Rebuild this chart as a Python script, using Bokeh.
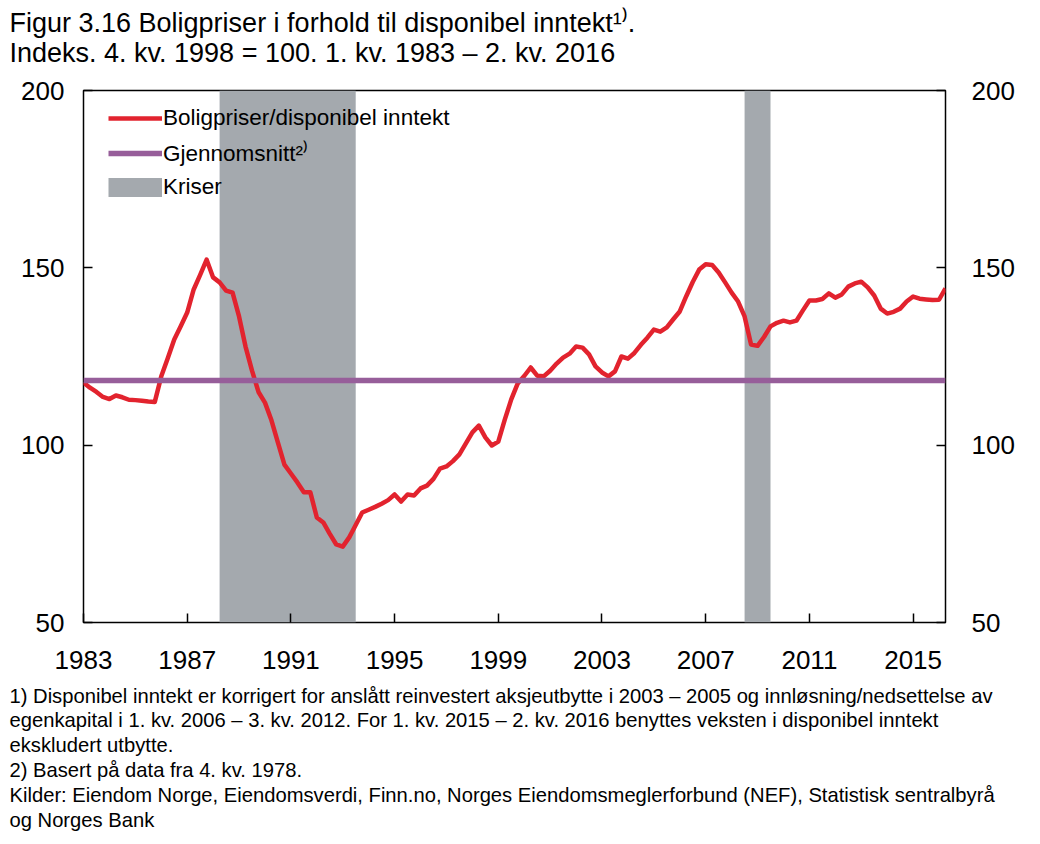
from bokeh.plotting import figure
from bokeh.layouts import column
from bokeh.models import Label, Legend, LegendItem, FixedTicker, Range1d, ColumnDataSource, LinearAxis
from bokeh.embed import file_html
from bokeh.resources import INLINE

# ---- data -----------------------------------------------------------------
start_year = 1983
# quarterly index, 1. kv. 1983 - 2. kv. 2016
ratio = [
    117.7, 116.2, 115.0, 113.6,   # 1983
    113.0, 114.0, 113.5, 112.8,   # 1984
    112.7, 112.5, 112.3, 112.2,   # 1985
    119.4, 124.5, 129.8, 133.5,   # 1986
    137.4, 143.9, 148.0, 152.3,   # 1987
    147.3, 145.9, 143.6, 143.0,   # 1988
    136.3, 127.8, 121.0, 115.0,   # 1989
    112.0, 107.0, 100.7, 94.5,    # 1990
    92.0, 89.5, 86.7, 86.7,       # 1991
    79.6, 78.2, 75.0, 72.0,       # 1992
    71.4, 74.0, 77.5, 81.0,       # 1993
    81.8, 82.6, 83.5, 84.5,       # 1994
    86.1, 84.1, 86.1, 85.8,       # 1995
    87.8, 88.6, 90.5, 93.4,       # 1996
    94.0, 95.5, 97.4, 100.5,      # 1997
    103.6, 105.5, 102.2, 99.9,    # 1998
    101.0, 107.2, 112.9, 117.4,   # 1999
    119.5, 121.9, 119.6, 119.4,   # 2000
    121.0, 123.0, 124.7, 125.8,   # 2001
    127.8, 127.5, 125.6, 122.2,   # 2002
    120.5, 119.4, 120.8, 125.0,   # 2003
    124.4, 126.0, 128.3, 130.3,   # 2004
    132.6, 132.0, 133.2, 135.5,   # 2005
    137.7, 142.0, 146.0, 149.5,   # 2006
    151.0, 150.8, 148.7, 145.9,   # 2007
    143.0, 140.5, 136.3, 128.4,   # 2008
    128.0, 130.5, 133.5, 134.5,   # 2009
    135.1, 134.6, 135.1, 138.0,   # 2010
    140.8, 140.8, 141.2, 142.8,   # 2011
    141.6, 142.5, 144.7, 145.6,   # 2012
    146.1, 144.5, 142.2, 138.5,   # 2013
    137.1, 137.6, 138.5, 140.5,   # 2014
    141.9, 141.3, 141.1, 140.9,   # 2015
    141.0, 144.2,                 # 2016
]
average = 118.2
crisis_start = [1988.25, 2008.5]
crisis_end = [1993.5, 2009.5]
x_ticks = [1983, 1987, 1991, 1995, 1999, 2003, 2007, 2011, 2015]
y_ticks = [50, 100, 150, 200]

title_lines = [
    "Figur 3.16 Boligpriser i forhold til disponibel inntekt\u00b9\u207e.",
    "Indeks. 4. kv. 1998 = 100. 1. kv. 1983 \u2013 2. kv. 2016",
]
foot_lines = [
    "1) Disponibel inntekt er korrigert for anslått reinvestert aksjeutbytte i 2003 \u2013 2005 og innløsning/nedsettelse av",
    "egenkapital i 1. kv. 2006 \u2013 3. kv. 2012. For 1. kv. 2015 \u2013 2. kv. 2016 benyttes veksten i disponibel inntekt",
    "ekskludert utbytte.",
    "2) Basert på data fra 4. kv. 1978.",
    "Kilder: Eiendom Norge, Eiendomsverdi, Finn.no, Norges Eiendomsmeglerforbund (NEF), Statistisk sentralbyrå",
    "og Norges Bank",
]
legend_labels = ["Boligpriser/disponibel inntekt", "Gjennomsnitt\u00b2\u207e", "Kriser"]

# ---- derived --------------------------------------------------------------
t = [start_year + i / 4 for i in range(len(ratio))]
x0, x1 = t[0], t[-1]
y0, y1 = 50, 200

FONT = "Liberation Sans"
RED = "#E2232E"
PURPLE = "#975E9A"
GREY = "#A4A9AE"

# page geometry (screenshot pixels)
OFF = 1
W = 1024
FL, FR, FT, FB = 84, 946, 91, 623
TOP_H = 72                 # title strip
MAIN_TOP = OFF + TOP_H     # page y where main figure starts
MAIN_BOT = 680             # page y where main figure ends
FOOT_H = 836 - MAIN_BOT
MAIN_H = MAIN_BOT - MAIN_TOP


def text_strip(height):
    f = figure(width=W, height=height, output_backend="svg", toolbar_location=None,
               x_range=Range1d(0, W), y_range=Range1d(height, 0),
               min_border=0, x_axis_location=None, y_axis_location=None,
               frame_align=False)
    f.grid.visible = False
    f.outline_line_color = None
    f.background_fill_color = "white"
    f.border_fill_color = "white"
    return f


def add_text(f, txt, x, y, size):
    f.add_layout(Label(x=x, y=y, text=txt, text_font=FONT, text_font_size=size,
                       text_color="black", text_baseline="alphabetic", text_align="left"))


# title strip
top = text_strip(TOP_H)
add_text(top, title_lines[0], 10 - OFF, 22, "27px")
add_text(top, title_lines[1], 10 - OFF, 52, "27px")

# main chart
p = figure(width=W, height=MAIN_H, output_backend="svg", toolbar_location=None,
           x_range=Range1d(x0, x1), y_range=Range1d(y0, y1),
           min_border_left=FL - OFF, min_border_right=W - (FR - OFF),
           min_border_top=FT - MAIN_TOP, min_border_bottom=MAIN_BOT - FB,
           y_axis_location=None, x_axis_location=None, frame_align=False)
p.grid.visible = False
p.outline_line_color = "black"
p.outline_line_width = 1.5
p.background_fill_color = "white"
p.border_fill_color = "white"


def style_axis(ax, ticks, standoff):
    ax.ticker = FixedTicker(ticks=ticks)
    ax.major_tick_in = 9
    ax.major_tick_out = 0
    ax.minor_tick_line_color = None
    ax.major_tick_line_width = 1.5
    ax.major_tick_line_color = "black"
    ax.axis_line_color = None
    ax.major_label_text_font = FONT
    ax.major_label_text_font_size = "26px"
    ax.major_label_text_color = "black"
    ax.major_label_standoff = standoff


bx = LinearAxis()
ly = LinearAxis()
ry = LinearAxis()
style_axis(bx, x_ticks, 28)
style_axis(ly, y_ticks, 19)
style_axis(ry, y_ticks, 26)
p.add_layout(bx, "below")
p.add_layout(ly, "left")
p.add_layout(ry, "right")

# crisis bands
src_c = ColumnDataSource(dict(left=crisis_start, right=crisis_end))
p.quad(left="left", right="right", bottom=y0, top=y1, source=src_c,
       fill_color=GREY, line_color=None)

src = ColumnDataSource(dict(t=t, v=ratio))
r_red = p.line("t", "v", source=src, line_color=RED, line_width=4.5, line_join="round")
r_avg = p.line([x0, x1], [average, average], line_color=PURPLE, line_width=5.5)
r_kr = p.line([x0, x0], [float("nan"), float("nan")], line_color=GREY, line_width=19)

legend = Legend(items=[LegendItem(label=legend_labels[0], renderers=[r_red]),
                       LegendItem(label=legend_labels[1], renderers=[r_avg]),
                       LegendItem(label=legend_labels[2], renderers=[r_kr])],
                location=(25, 422), orientation="vertical",
                background_fill_alpha=0, border_line_color=None,
                padding=0, margin=0, spacing=6,
                glyph_width=54, glyph_height=20, label_height=20,
                label_standoff=1, label_text_font=FONT,
                label_text_font_size="22.5px", label_text_color="black")
p.add_layout(legend, "center")

# footnote strip
foot = text_strip(FOOT_H)
for i, line in enumerate(foot_lines):
    add_text(foot, line, 10 - OFF, 696 + i * 24.9 - MAIN_BOT, "20.2px")

layout = column(top, p, foot, spacing=0)
open("out.html", "w").write(file_html(layout, INLINE))
